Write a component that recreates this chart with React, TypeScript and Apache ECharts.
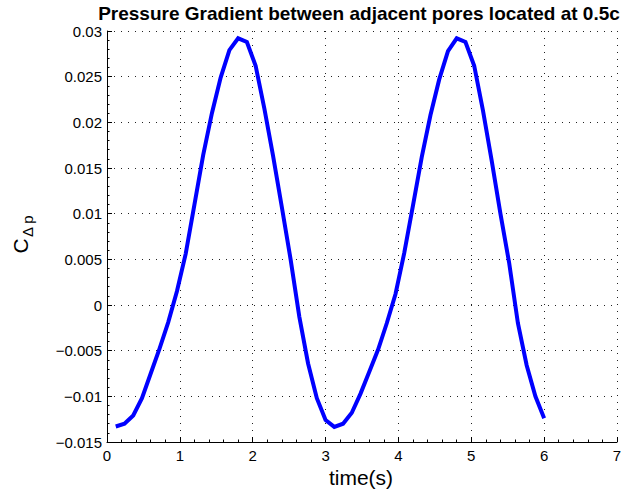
import React, { useEffect, useRef } from "react";
import * as echarts from "echarts";

const times = [
  0.12, 0.24, 0.36, 0.48, 0.6, 0.72, 0.84, 0.96, 1.08, 1.2,
  1.32, 1.44, 1.56, 1.68, 1.8, 1.92, 2.04, 2.16, 2.28, 2.4,
  2.52, 2.64, 2.76, 2.88, 3.0, 3.12, 3.24, 3.36, 3.48, 3.6,
  3.72, 3.84, 3.96, 4.08, 4.2, 4.32, 4.44, 4.56, 4.68, 4.8,
  4.92, 5.04, 5.16, 5.28, 5.4, 5.52, 5.64, 5.76, 5.88, 6.0,
];

const cdp = [
  -0.0133, -0.013, -0.0121, -0.0102, -0.0075, -0.0048, -0.0019, 0.0015, 0.0056, 0.011,
  0.0164, 0.021, 0.0249, 0.0279, 0.0292, 0.0288, 0.0262, 0.0215, 0.0163, 0.0107,
  0.005, -0.0013, -0.0064, -0.0102, -0.0126, -0.01335, -0.013, -0.0118, -0.0097, -0.0073,
  -0.0049, -0.002, 0.0012, 0.0057, 0.0109, 0.0162, 0.0208, 0.0247, 0.0278, 0.0292,
  0.0288, 0.0262, 0.0213, 0.0158, 0.01, 0.0046, -0.002, -0.0066, -0.01, -0.0124,
];

const titleText = "Pressure Gradient between adjacent pores located at 0.5c";
const xLabel = "time(s)";

const FONT = "'Liberation Sans', Arial, Helvetica, sans-serif";

export default function App() {
  const ref = useRef<HTMLDivElement>(null);
  useEffect(() => {
    if (!ref.current) return;
    const chart = echarts.init(ref.current, null, { renderer: "svg" });
    const grid = { left: 107, right: 9, top: 31, bottom: 53 };
    const dotted = { color: "#222", width: 1, type: [1, 6] as any };
    chart.setOption({
      animation: false,
      backgroundColor: "#fff",
      grid,
      xAxis: {
        type: "value",
        min: 0,
        max: 7,
        interval: 1,
        axisLine: { show: true, onZero: false, lineStyle: { color: "#000", width: 1 } },
        axisTick: { show: true, inside: true, length: 5, lineStyle: { color: "#000" } },
        minorTick: { show: true, splitNumber: 5, length: 2.5, lineStyle: { color: "#000" } },
        axisLabel: { color: "#000", fontSize: 15, fontFamily: FONT, margin: 6 },
        splitLine: { show: true, lineStyle: dotted },
      },
      yAxis: {
        type: "value",
        min: -0.015,
        max: 0.03,
        interval: 0.005,
        axisLine: { show: true, onZero: false, lineStyle: { color: "#000", width: 1 } },
        axisTick: { show: true, inside: true, length: 5, lineStyle: { color: "#000" } },
        minorTick: { show: true, splitNumber: 5, length: 2.5, lineStyle: { color: "#000" } },
        axisLabel: {
          color: "#000",
          fontSize: 15,
          fontFamily: FONT,
          margin: 5,
          formatter: (v: number) => {
            const s = String(+v.toFixed(4));
            return s.replace("-", "\u2212");
          },
        },
        splitLine: { show: true, lineStyle: dotted },
      },
      series: [
        {
          type: "line",
          data: times.map((t, i) => [t, cdp[i]]),
          showSymbol: false,
          symbol: "none",
          lineStyle: { color: "#0000ff", width: 4, join: "miter" },
          z: 3,
        },
      ],
      graphic: [
        {
          type: "text",
          x: 359,
          y: 13,
          style: {
            text: titleText,
            font: `bold 19px ${FONT}`,
            fill: "#000",
            align: "center",
            verticalAlign: "middle",
            textAlign: "center",
            textVerticalAlign: "middle",
          },
        },
        {
          type: "text",
          x: 361,
          y: 477,
          style: {
            text: xLabel,
            font: `21px ${FONT}`,
            fill: "#000",
            align: "center",
            verticalAlign: "middle",
            textAlign: "center",
            textVerticalAlign: "middle",
          },
        },
        {
          type: "group",
          x: 20,
          y: 246,
          rotation: Math.PI / 2,
          children: [
            {
              type: "text",
              x: 0,
              y: 0,
              style: {
                text: "C",
                font: `21px ${FONT}`,
                fill: "#000",
                align: "center",
                verticalAlign: "middle",
                textAlign: "center",
                textVerticalAlign: "middle",
              },
            },
            {
              type: "text",
              x: 9,
              y: 7,
              style: {
                text: "\u0394 p",
                font: `15px ${FONT}`,
                fill: "#000",
                align: "left",
                verticalAlign: "middle",
                textAlign: "left",
                textVerticalAlign: "middle",
              },
            },
          ],
        },
      ],
    });
    return () => chart.dispose();
  }, []);
  return (
    <div
      ref={ref}
      style={{ position: "absolute", left: 0, top: 0, width: 626, height: 495 }}
    />
  );
}
